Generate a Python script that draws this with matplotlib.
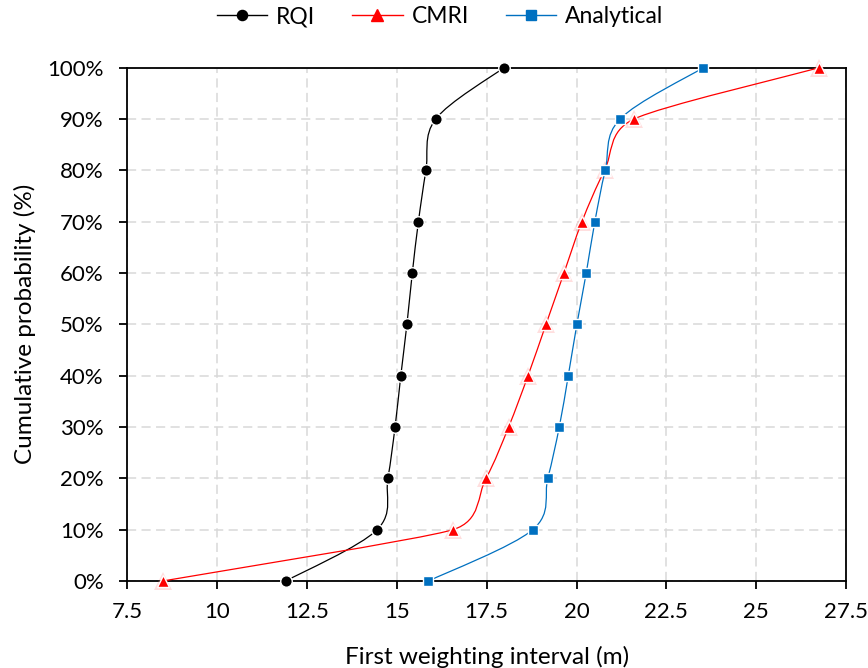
import numpy as np
import matplotlib
matplotlib.use("Agg")
import matplotlib.pyplot as plt
from matplotlib.path import Path
from matplotlib.patches import PathPatch
from matplotlib.lines import Line2D
from matplotlib.ticker import FuncFormatter

plt.rcParams["font.family"] = ["Lato", "DejaVu Sans"]

prob = [0, 10, 20, 30, 40, 50, 60, 70, 80, 90, 100]
rqi = [11.91, 14.45, 14.75, 14.95, 15.11, 15.28, 15.43, 15.60, 15.81, 16.08, 17.98]
cmri = [8.48, 16.56, 17.48, 18.11, 18.65, 19.15, 19.65, 20.15, 20.78, 21.60, 26.76]
analytical = [15.88, 18.78, 19.20, 19.52, 19.77, 20.01, 20.27, 20.51, 20.80, 21.21, 23.53]

x_ticks = [7.5, 10, 12.5, 15, 17.5, 20, 22.5, 25, 27.5]
x_tick_labels = ["7.5", "10", "12.5", "15", "17.5", "20", "22.5", "25", "27.5"]


def smooth_path(ax, xs, ys):
    # spreadsheet-style smoothing: cubic Bezier through every point,
    # tangent = (next - prev) / 6, clamped to half of each adjacent segment
    pts = ax.transData.transform(np.column_stack([xs, ys]))
    n = len(pts)
    tang = []
    for i in range(n):
        p0 = pts[max(i - 1, 0)]
        p2 = pts[min(i + 1, n - 1)]
        t = (p2 - p0) / 6.0
        tl = np.hypot(*t)
        lim = []
        if i > 0:
            lim.append(np.hypot(*(pts[i] - pts[i - 1])) / 2)
        if i < n - 1:
            lim.append(np.hypot(*(pts[i + 1] - pts[i])) / 2)
        m = min(lim)
        if tl > m and tl > 0:
            t = t * m / tl
        tang.append(t)
    verts = [pts[0]]
    codes = [Path.MOVETO]
    for i in range(n - 1):
        verts += [pts[i] + tang[i], pts[i + 1] - tang[i + 1], pts[i + 1]]
        codes += [Path.CURVE4] * 3
    verts = ax.transData.inverted().transform(np.array(verts))
    return Path(verts, codes)


fig = plt.figure(figsize=(8.68, 6.68), dpi=100)
ax = fig.add_axes([0.1467, 0.1302, 0.828, 0.7685])
ax.set_xlim(7.5, 27.5)
ax.set_ylim(0, 100)

series = [
    ("RQI", rqi, "black", "o", 8.3),
    ("CMRI", cmri, "#ff0000", "^", 9.3),
    ("Analytical", analytical, "#0070c0", "s", 7.8),
]

handles = []
for k, (name, xs, color, marker, ms) in enumerate(series):
    z = 3 + k
    ax.add_patch(PathPatch(smooth_path(ax, xs, prob), fill=False, edgecolor=color,
                           lw=0.9, zorder=z))
    if marker == "^":
        # soft glow around the triangles
        ax.plot(xs, prob, linestyle="none", marker="^", markersize=ms + 4,
                color="#ff8080", alpha=0.25, markeredgewidth=0, zorder=z, clip_on=False)
    ax.plot(xs, prob, linestyle="none", marker=marker, markersize=ms,
            markerfacecolor=color, markeredgecolor="white", markeredgewidth=1.0,
            zorder=z + 0.5, clip_on=False)
    handles.append(Line2D([], [], color=color, lw=1.0, marker=marker,
                          markersize=ms - 1, markeredgecolor=color, label=name))

ax.set_xticks(x_ticks)
ax.set_xticklabels(x_tick_labels)
ax.set_yticks(prob)
ax.yaxis.set_major_formatter(FuncFormatter(lambda v, p: f"{v:.0f}%"))

ax.grid(True, color="#d9d9d9", linestyle=(0, (6, 3.5)), linewidth=1.1, zorder=0)
ax.set_axisbelow(True)
for s in ax.spines.values():
    s.set_linewidth(1.3)
    s.set_color("black")
    s.set_zorder(2.5)

ax.tick_params(axis="both", direction="out", length=6, width=1.3,
               labelsize=16, colors="black")
ax.tick_params(axis="x", pad=9)
ax.tick_params(axis="y", pad=11)

ax.set_xlabel("First weighting interval (m)", fontsize=17.5, labelpad=17)
ax.set_ylabel("Cumulative probability (%)", fontsize=17.5, labelpad=8)

fig.legend(handles=handles, loc="center", bbox_to_anchor=(0.507, 0.975), ncol=3,
           frameon=False, fontsize=16.5, handlelength=2.2, handletextpad=0.4,
           columnspacing=1.6)

fig.savefig("out.png", dpi=100)
